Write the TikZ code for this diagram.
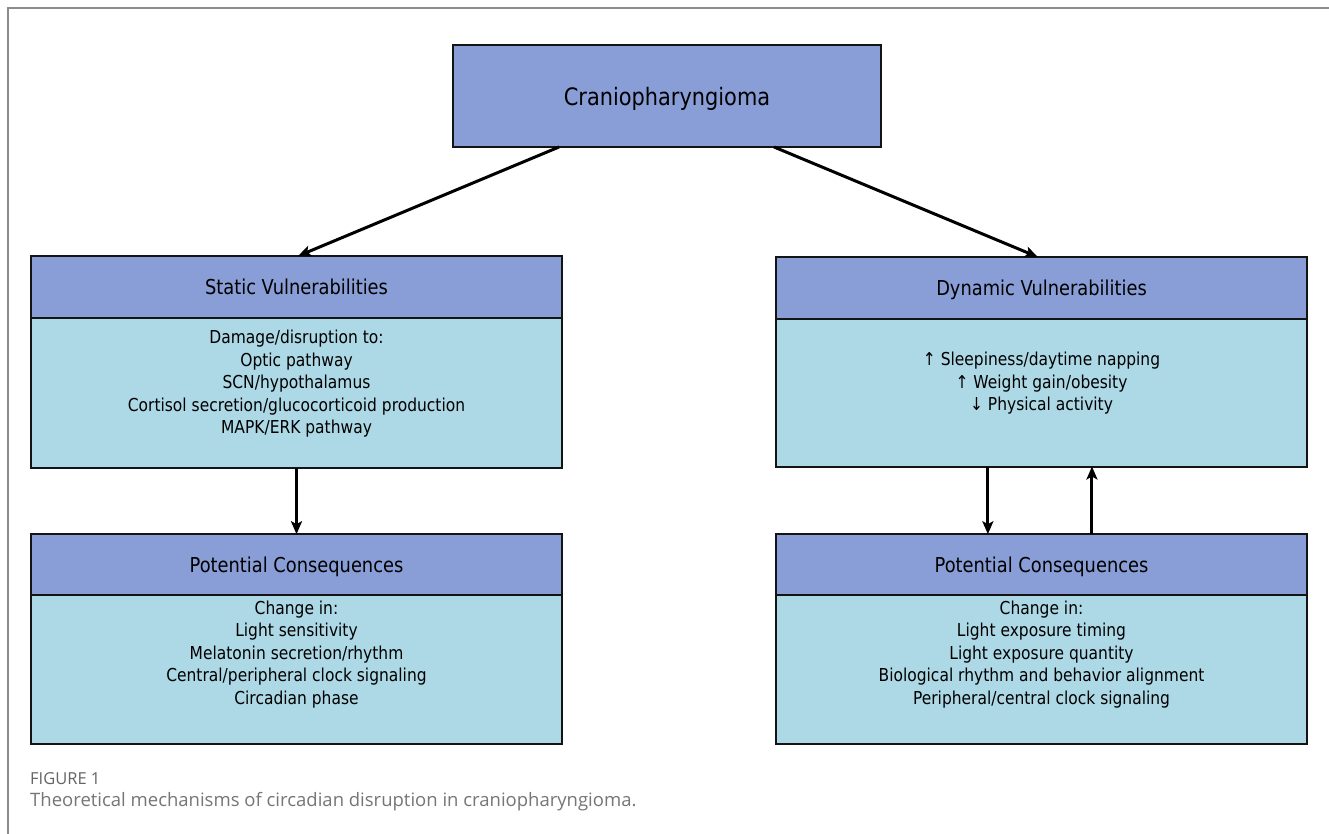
\documentclass[tikz,border=0pt]{standalone}
\usepackage{fontspec}
\usetikzlibrary{arrows.meta,calc}
\newfontfamily\diagfont{DejaVu Sans}[FakeStretch=0.87]
\newfontfamily\capfont{Open Sans}
\definecolor{hdr}{RGB}{137,158,214}
\definecolor{bdy}{RGB}{173,216,230}
\definecolor{frm}{RGB}{140,140,140}
\definecolor{capgray}{RGB}{118,118,118}
\definecolor{labgray}{RGB}{100,100,100}
\definecolor{edge}{RGB}{20,20,20}
\tikzset{
  box/.style={draw=edge, line width=2pt, inner sep=0pt, outer sep=0pt, anchor=center},
  hdrbox/.style={box, fill=hdr, minimum width=531pt, text height=15.6pt, text depth=0pt,
                 font=\diagfont\fontsize{20.5pt}{24pt}\selectfont},
  bdybox/.style={box, fill=bdy, minimum width=531pt},
  bodytext/.style={align=center, inner sep=0pt, font=\diagfont\fontsize{17.8pt}{22.5pt}\selectfont},
  arr/.style={line width=3pt, draw=black, -{Stealth[length=13pt,width=11pt,inset=3pt]}},
}
\begin{document}
\begin{tikzpicture}[x=1pt,y=-1pt]
\useasboundingbox (0,0) rectangle (1329,834);
\fill[white] (0,0) rectangle (1329,834);
% frame
\draw[frm, line width=2pt] (8,834) -- (8,8) -- (1329,8);

% top box
\node[box, fill=hdr, minimum width=428pt, minimum height=102pt, text height=18.2pt, text depth=0pt,
      font=\diagfont\fontsize{24pt}{28pt}\selectfont] (cranio) at (667,96) {Craniopharyngioma};

% static vulnerabilities
\node[bdybox, minimum height=149.5pt] (svb) at (296.5,392.75) {};
\node[hdrbox, minimum height=62pt] (svh) at (296.5,287) {Static Vulnerabilities};
\node[bodytext] (svt) at (296.5,383.8) {Damage/disruption to:\\Optic pathway\\SCN/hypothalamus\\Cortisol secretion/glucocorticoid production\\MAPK/ERK pathway};

% dynamic vulnerabilities
\node[bdybox, minimum height=147.5pt] (dvb) at (1041.5,392.75) {};
\node[hdrbox, minimum height=62pt] (dvh) at (1041.5,288) {Dynamic Vulnerabilities};
\node[bodytext] (dvt) at (1041.5,383.5) {↑ Sleepiness/daytime napping\\↑ Weight gain/obesity\\↓ Physical activity};

% potential consequences left
\node[bdybox, minimum height=149pt] (pclb) at (296.5,669.5) {};
\node[hdrbox, minimum height=61pt] (pclh) at (296.5,564.7) {Potential Consequences};
\node[bodytext] (pclt) at (296.5,654.5) {Change in:\\Light sensitivity\\Melatonin secretion/rhythm\\Central/peripheral clock signaling\\Circadian phase};

% potential consequences right
\node[bdybox, minimum height=149pt] (pcrb) at (1041.5,669.5) {};
\node[hdrbox, minimum height=61pt] (pcrh) at (1041.5,564.7) {Potential Consequences};
\node[bodytext] (pcrt) at (1041.5,654.5) {Change in:\\Light exposure timing\\Light exposure quantity\\Biological rhythm and behavior alignment\\Peripheral/central clock signaling};

% connectors
\draw[arr] ($(cranio.south west)!0.2477!(cranio.south east)$) -- ($(svh.north west)!0.503!(svh.north east)$);
\draw[arr] ($(cranio.south west)!0.75!(cranio.south east)$) -- ($(dvh.north west)!0.493!(dvh.north east)$);
\draw[arr] (svb.south) -- (pclh.north);
\draw[arr] ($(dvb.south west)!0.399!(dvb.south east)$) -- ($(pcrh.north west)!0.399!(pcrh.north east)$);
\draw[arr] ($(pcrh.north west)!0.595!(pcrh.north east)$) -- ($(dvb.south west)!0.595!(dvb.south east)$);

% caption
\node[anchor=west, inner sep=0pt, text=labgray, font=\capfont\fontsize{16.5pt}{19pt}\selectfont] (figlabel) at (30,779) {FIGURE 1};
\node[anchor=west, inner sep=0pt, text=capgray, font=\capfont\fontsize{18.5pt}{22pt}\selectfont] (figcap) at (30,802) {Theoretical mechanisms of circadian disruption in craniopharyngioma.};
\end{tikzpicture}
\end{document}
